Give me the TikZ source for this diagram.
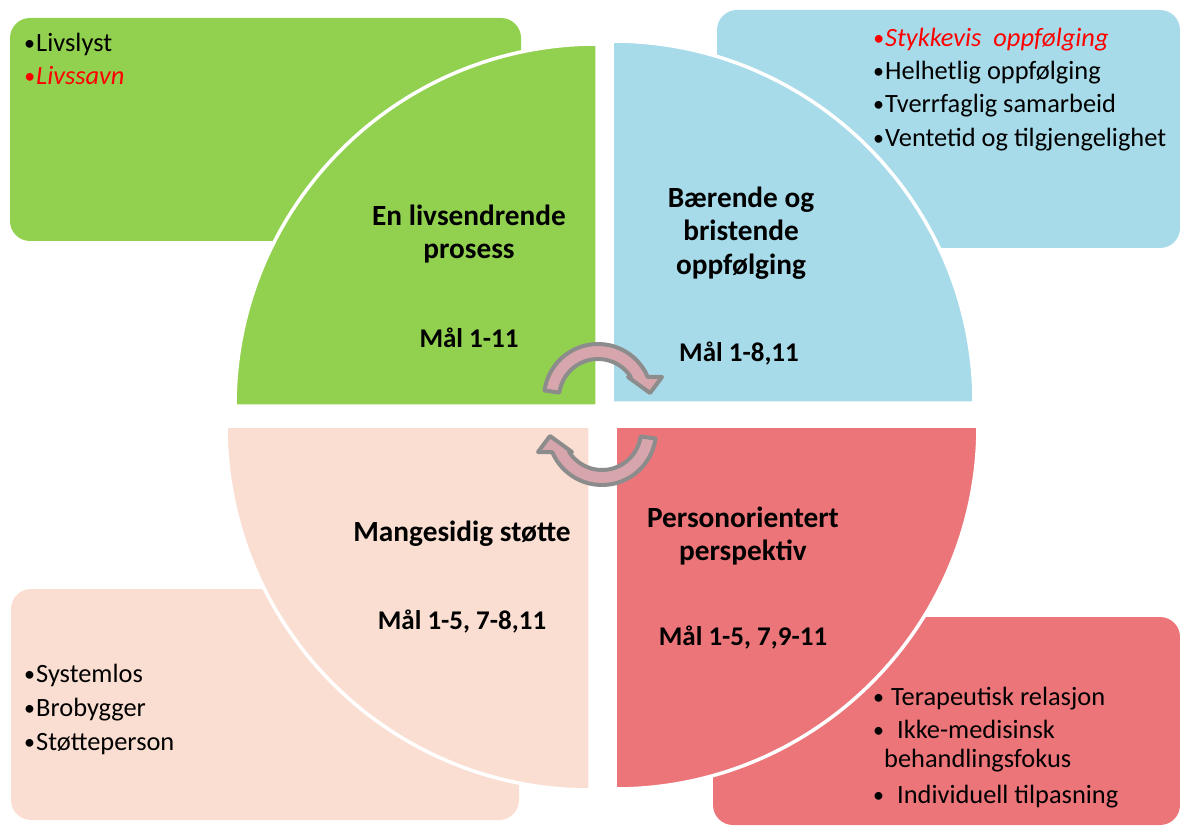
\documentclass[tikz,border=0pt]{standalone}
\usepackage{fontspec}
\setmainfont{Carlito}
\usetikzlibrary{calc}
\definecolor{qgreen}{RGB}{146,208,80}
\definecolor{qblue}{RGB}{167,219,233}
\definecolor{qpeach}{RGB}{250,222,210}
\definecolor{qred}{RGB}{236,117,122}
\definecolor{arrowfill}{RGB}{215,166,173}
\definecolor{arrowline}{RGB}{140,140,140}
\definecolor{hlred}{RGB}{255,0,0}
% a slightly smaller list bullet
\newcommand\listdot{\makebox[12pt][l]{\raisebox{1pt}{\fontsize{22}{22}\selectfont •}}}
\begin{document}
\begin{tikzpicture}[x=1pt,y=-1pt,
  infobox/.style={rounded corners=20pt},
  quarter/.style={draw=white, line width=3.5pt},
  item/.style={anchor=base west, inner sep=0pt, font=\fontsize{26.4}{32}\selectfont},
  hlitem/.style={item, text=hlred, font=\fontsize{26.4}{32}\selectfont\itshape},
  title/.style={anchor=base, inner sep=0pt, font=\bfseries\fontsize{29.3}{34}\selectfont},
  goal/.style={anchor=base, inner sep=0pt, font=\bfseries\fontsize{27}{32}\selectfont},
  cyclearrow/.pic={
    \path[fill=arrowfill, draw=arrowline, line width=4pt, line join=round]
      (188:54) arc[start angle=188, end angle=337, radius=54]
      -- (64,-21) -- (52,-5) -- (30,-21) -- (327.4:39)
      arc[start angle=327.4, end angle=188, radius=39] -- cycle;
  }]
\useasboundingbox (0,0) rectangle (1180,826);

% corner boxes
\fill[qgreen, infobox] (10,18) rectangle (521,241);
\fill[qblue, infobox] (717,10) rectangle (1180,248);
\fill[qpeach, infobox] (11,589) rectangle (519,820);
\fill[qred, infobox] (713,617) rectangle (1180,825);

% the four quarters of the circle
\path[fill=qgreen, quarter] (597,406) -- (235,406) arc[start angle=180, end angle=270, radius=362] -- cycle;
\path[fill=qblue, quarter] (612,403) -- (612,41) arc[start angle=270, end angle=360, radius=362] -- cycle;
\path[fill=qpeach, quarter] (590,426) -- (590,790) arc[start angle=90, end angle=180, radius=364] -- cycle;
\path[fill=qred, quarter] (615,426) -- (978,426) arc[start angle=0, end angle=90, radius=363] -- cycle;

% circular arrows in the middle
\pic (cycleup) at (598,398) {cyclearrow};
\pic[rotate=180] (cycledown) at (602,431) {cyclearrow};

% quarter titles
\node[title] (t1a) at (469,226) {En livsendrende};
\node[title] (t1b) at (469,259) {prosess};
\node[goal] (m1) at (469,347) {Mål 1-11};

\node[title] (t2a) at (741,208) {Bærende og};
\node[title] (t2b) at (741,241) {bristende};
\node[title] (t2c) at (741,274) {oppfølging};
\node[goal] (m2) at (739,361) {Mål 1-8,11};

\node[title] (t3a) at (462,541) {Mangesidig støtte};
\node[goal] (m3) at (462,629) {Mål 1-5, 7-8,11};

\node[title] (t4a) at (743,527) {Personorientert};
\node[title] (t4b) at (743,560) {perspektiv};
\node[goal] (m4) at (743,645) {Mål 1-5, 7,9-11};

% box lists
\node[item] (g1) at (24,52) {\listdot Livslyst};
\node[hlitem] (g2) at (24,85) {\listdot Livssavn};

\node[hlitem] (b1) at (873,47) {\listdot Stykkevis\ \ oppfølging};
\node[item] (b2) at (873,80) {\listdot Helhetlig oppfølging};
\node[item] (b3) at (873,113) {\listdot Tverrfaglig samarbeid};
\node[item] (b4) at (873,147) {\listdot Ventetid og tilgjengelighet};

\node[item] (p1) at (24,682) {\listdot Systemlos};
\node[item] (p2) at (24,716) {\listdot Brobygger};
\node[item] (p3) at (24,750) {\listdot Støtteperson};

\node[item] (r1) at (873,705) {\listdot\ Terapeutisk relasjon};
\node[item] (r2) at (873,738) {\listdot\ \ Ikke-medisinsk};
\node[item] (r3) at (884,767) {behandlingsfokus};
\node[item] (r4) at (873,803) {\listdot\ \ Individuell tilpasning};
\end{tikzpicture}
\end{document}
